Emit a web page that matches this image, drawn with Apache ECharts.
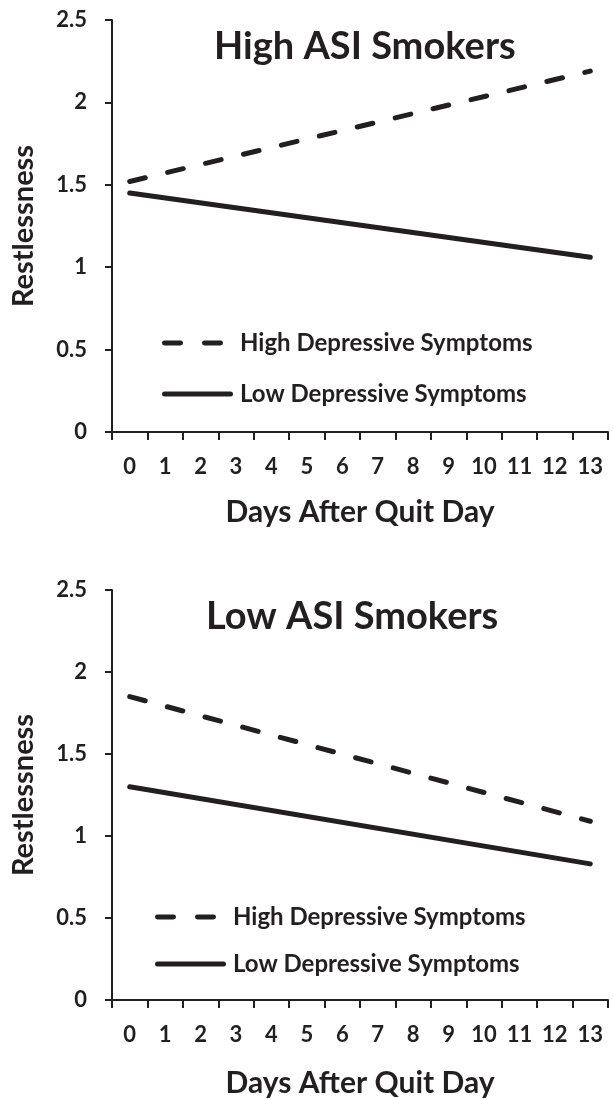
<!DOCTYPE html>
<html>
<head>
<meta charset="utf-8">
<script src="https://cdn.jsdelivr.net/npm/echarts@6/dist/echarts.min.js"></script>
<style>
  html, body { margin: 0; padding: 0; background: #fff; }
  #chart { width: 613px; height: 1099px; }
</style>
</head>
<body>
<div id="chart"></div>
<script>
  // days 0..13
  var days = ['0', '1', '2', '3', '4', '5', '6', '7', '8', '9', '10', '11', '12', '13'];
  var yTicks = { min: 0, max: 2.5, interval: 0.5 };

  // straight-line fits, read at day 0 and day 13
  var highAsiHighDep = [[0, 1.52], [13, 2.19]];
  var highAsiLowDep = [[0, 1.45], [13, 1.06]];
  var lowAsiHighDep = [[0, 1.85], [13, 1.09]];
  var lowAsiLowDep = [[0, 1.30], [13, 0.83]];

  var ink = '#231f20';
  var font = 'Lato';

  // legend samples: two rounded dashes / one bar, padded to the same width
  var dashIcon = 'path://M2.5,0h16a2.5,2.5 0 0 1 0,5h-16a2.5,2.5 0 0 1 0,-5z' +
    'M42.5,0h16a2.5,2.5 0 0 1 0,5h-16a2.5,2.5 0 0 1 0,-5z M71,0h0.01v5h-0.01z';
  var solidIcon = 'path://M2.5,0h66a2.5,2.5 0 0 1 0,5h-66a2.5,2.5 0 0 1 0,-5z';

  var chart = echarts.init(document.getElementById('chart'));

  function xAxis(gridIndex, nameGap) {
    return {
      gridIndex: gridIndex,
      type: 'category',
      data: days,
      boundaryGap: true,
      name: 'Days After Quit Day',
      nameLocation: 'middle',
      nameGap: nameGap,
      nameTextStyle: { color: ink, fontFamily: font, fontWeight: 'bold', fontSize: 30 },
      axisLine: { lineStyle: { color: ink, width: 2 } },
      axisTick: { show: true, length: 8, lineStyle: { color: ink, width: 2 } },
      axisLabel: { color: ink, fontFamily: font, fontWeight: 'bold', fontSize: 22, margin: 24, interval: 0 },
      splitLine: { show: false }
    };
  }

  function yAxis(gridIndex) {
    return {
      gridIndex: gridIndex,
      type: 'value',
      min: yTicks.min,
      max: yTicks.max,
      interval: yTicks.interval,
      name: 'Restlessness',
      nameLocation: 'middle',
      nameGap: 74,
      nameRotate: 90,
      nameTextStyle: { color: ink, fontFamily: font, fontWeight: 'bold', fontSize: 29 },
      axisLine: { show: true, lineStyle: { color: ink, width: 2 } },
      axisTick: { show: true, length: 7, lineStyle: { color: ink, width: 2 } },
      axisLabel: { color: ink, fontFamily: font, fontWeight: 'bold', fontSize: 22, margin: 25 },
      splitLine: { show: false }
    };
  }

  function line(name, data, gridIndex, dashed) {
    return {
      name: name,
      type: 'line',
      xAxisIndex: gridIndex,
      yAxisIndex: gridIndex,
      data: data,
      symbol: 'none',
      silent: true,
      itemStyle: { color: ink },
      lineStyle: {
        color: ink,
        width: 5,
        type: dashed ? [16, 23] : 'solid',
        cap: 'round'
      }
    };
  }

  function legend(left, top, gap) {
    return {
      orient: 'vertical',
      left: left,
      top: top,
      itemWidth: 71,
      itemHeight: 5,
      itemGap: gap,
      selectedMode: false,
      data: [
        { name: 'High Depressive Symptoms', icon: dashIcon, itemStyle: { color: ink, borderWidth: 0 } },
        { name: 'Low Depressive Symptoms', icon: solidIcon, itemStyle: { color: ink, borderWidth: 0 } }
      ],
      textStyle: { color: ink, fontFamily: font, fontWeight: 'bold', fontSize: 24, padding: [0, 0, 0, 2] }
    };
  }

  var option = {
    animation: false,
    backgroundColor: '#fff',
    title: [
      { text: 'High ASI Smokers', left: 209, top: 23,
        textStyle: { color: ink, fontFamily: font, fontWeight: 'bold', fontSize: 38 } },
      { text: 'Low ASI Smokers', left: 201, top: 593,
        textStyle: { color: ink, fontFamily: font, fontWeight: 'bold', fontSize: 38 } }
    ],
    legend: [legend(157, 326, 27), legend(150, 900, 23)],
    grid: [
      { left: 112, top: 20, width: 496, height: 412 },
      { left: 112, top: 590, width: 496, height: 412 }
    ],
    xAxis: [xAxis(0, 65), xAxis(1, 68)],
    yAxis: [yAxis(0), yAxis(1)],
    series: [
      line('High Depressive Symptoms', highAsiHighDep, 0, true),
      line('Low Depressive Symptoms', highAsiLowDep, 0, false),
      line('High Depressive Symptoms', lowAsiHighDep, 1, true),
      line('Low Depressive Symptoms', lowAsiLowDep, 1, false)
    ]
  };

  chart.setOption(option);
</script>
</body>
</html>
